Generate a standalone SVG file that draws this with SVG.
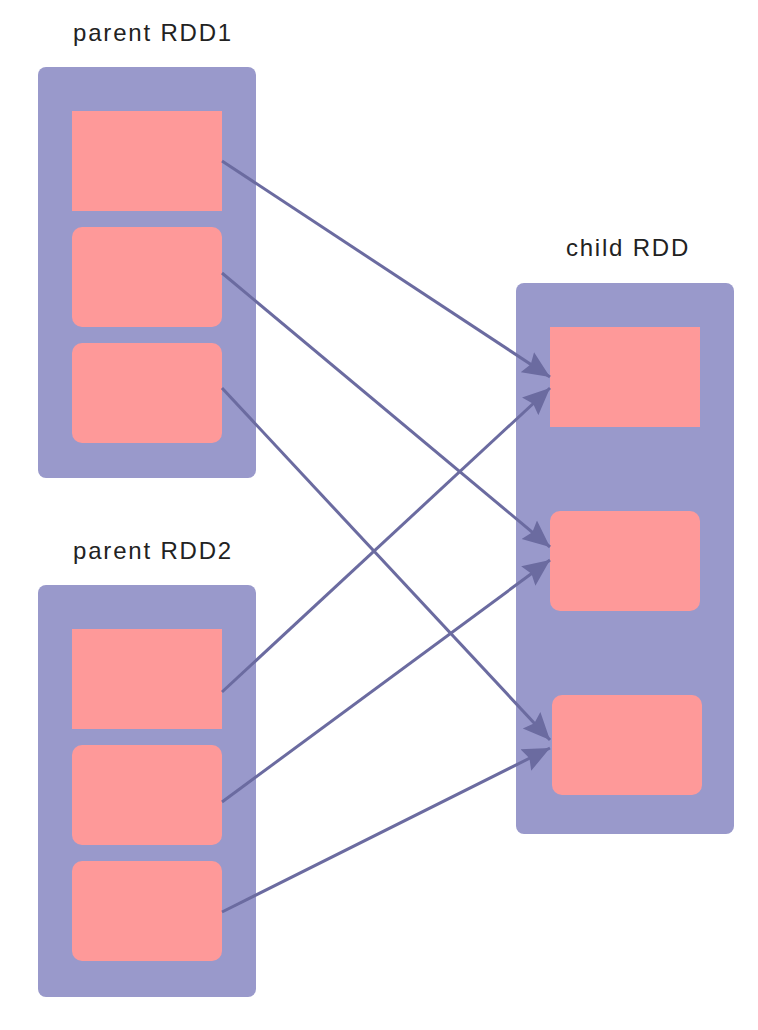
<svg xmlns="http://www.w3.org/2000/svg" width="758" height="1030" viewBox="0 0 758 1030">
<style>
.cont{fill:#9999cb}
.part{fill:#fe9999}
.lbl{font-family:"Liberation Sans",Arial,sans-serif;font-size:24px;letter-spacing:1.8px;fill:#222;text-anchor:middle}
.edge{stroke:#6b6ba0;stroke-width:3;fill:none;marker-end:url(#ah)}
</style>
<defs>
<marker id="ah" markerUnits="userSpaceOnUse" markerWidth="28" markerHeight="26" refX="27" refY="13" orient="auto" viewBox="0 0 28 26">
<path d="M0,1 L27,13 L0,25 L4,13 z" fill="#6b6ba0"/>
</marker>
</defs>
<rect width="758" height="1030" fill="#fff"/>
<g id="parent1">
<text class="lbl" x="153" y="41">parent RDD1</text>
<rect class="cont" x="38" y="67" width="218" height="411" rx="8"/>
<rect class="part" x="72" y="111" width="150" height="100"/>
<rect class="part" x="72" y="227" width="150" height="100" rx="10"/>
<rect class="part" x="72" y="343" width="150" height="100" rx="10"/>
</g>
<g id="parent2">
<text class="lbl" x="153" y="559">parent RDD2</text>
<rect class="cont" x="38" y="585" width="218" height="412" rx="8"/>
<rect class="part" x="72" y="629" width="150" height="100"/>
<rect class="part" x="72" y="745" width="150" height="100" rx="10"/>
<rect class="part" x="72" y="861" width="150" height="100" rx="10"/>
</g>
<g id="child">
<text class="lbl" x="628" y="256">child RDD</text>
<rect class="cont" x="516" y="283" width="218" height="551" rx="8"/>
<rect class="part" x="550" y="327" width="150" height="100"/>
<rect class="part" x="550" y="511" width="150" height="100" rx="10"/>
<rect class="part" x="552" y="695" width="150" height="100" rx="10"/>
</g>
<g id="connectors">
<line class="edge" x1="222" y1="161" x2="550" y2="377"/>
<line class="edge" x1="222" y1="273" x2="550" y2="547"/>
<line class="edge" x1="222" y1="388" x2="550" y2="740"/>
<line class="edge" x1="222" y1="692" x2="550" y2="388"/>
<line class="edge" x1="222" y1="802" x2="550" y2="560"/>
<line class="edge" x1="222" y1="912" x2="550" y2="748"/>
</g>
</svg>
